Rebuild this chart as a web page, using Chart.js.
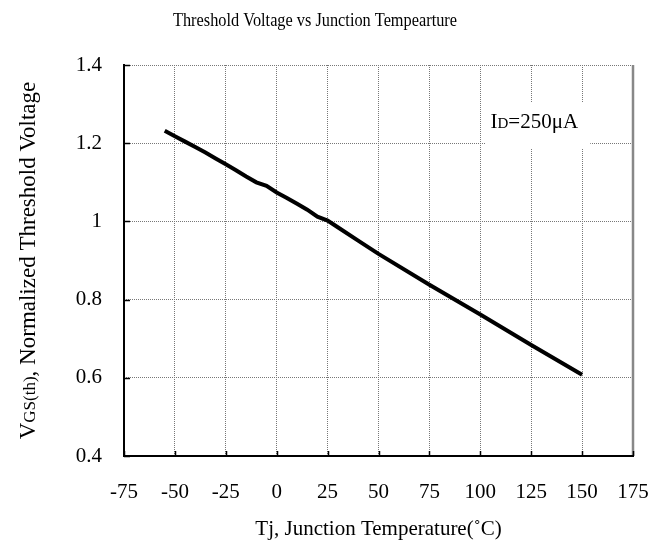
<!DOCTYPE html>
<html>
<head>
<meta charset="utf-8">
<script src="https://cdn.jsdelivr.net/npm/chart.js@4.4.1/dist/chart.umd.min.js"></script>
<style>
  html, body { margin: 0; padding: 0; background: #fff; }
  #wrap { width: 663px; height: 548px; }
</style>
</head>
<body>
<div id="wrap"><canvas id="canvas" width="663" height="548"></canvas></div>
<script>
// data
const temps = [-55, -50, -45, -40, -35, -30, -25, -20, -15, -10, -5, 0, 5, 10, 15, 20, 25, 30, 40, 50, 75, 100, 125, 150];
const vgs = [1.232, 1.218, 1.204, 1.190, 1.176, 1.161, 1.146, 1.131, 1.115, 1.100, 1.091, 1.074, 1.060, 1.045, 1.030, 1.012, 1.002, 0.985, 0.951, 0.917, 0.838, 0.762, 0.684, 0.608];
const xTicks = [-75, -50, -25, 0, 25, 50, 75, 100, 125, 150, 175];
const yTicks = [0.4, 0.6, 0.8, 1, 1.2, 1.4];

const chartTitle = 'Threshold Voltage vs Junction Tempearture';
const xTitle = 'Tj, Junction Temperature(\u02DAC)';
const serif = '"Liberation Serif", "DejaVu Serif", serif';

// squeeze a line of text horizontally so it fits a given width (narrow font look)
function fillNarrow(ctx, text, cx, cy, width) {
  const w = ctx.measureText(text).width;
  const k = Math.min(1, width / w);
  ctx.save();
  ctx.translate(cx, cy);
  ctx.scale(k, 1);
  ctx.textAlign = 'center';
  ctx.fillText(text, 0, 0);
  ctx.restore();
}

// title, y axis title with subscript, frame, inward ticks, I_D label
const decorations = {
  id: 'decorations',
  beforeDatasetsDraw(chart) {
    const ctx = chart.ctx;
    const a = chart.chartArea;
    const x = chart.scales.x, y = chart.scales.y;
    ctx.save();
    // frame
    ctx.lineWidth = 2.5;
    ctx.strokeStyle = '#888';
    ctx.beginPath();
    ctx.moveTo(a.right, a.top);
    ctx.lineTo(a.right, a.bottom);
    ctx.stroke();
    ctx.lineWidth = 2;
    ctx.strokeStyle = '#000';
    ctx.beginPath();
    ctx.moveTo(a.left, a.top - 1);
    ctx.lineTo(a.left, a.bottom);
    ctx.lineTo(a.right + 1, a.bottom);
    ctx.stroke();
    // short inward ticks
    ctx.lineWidth = 1.5;
    xTicks.forEach(v => {
      const px = Math.round(x.getPixelForValue(v)) + 0.5;
      ctx.beginPath();
      ctx.moveTo(px, a.bottom);
      ctx.lineTo(px, a.bottom - 5);
      ctx.stroke();
    });
    yTicks.forEach(v => {
      const py = Math.round(y.getPixelForValue(v)) + 0.5;
      ctx.beginPath();
      ctx.moveTo(a.left, py);
      ctx.lineTo(a.left + 6, py);
      ctx.stroke();
    });
    // white box behind the current label
    const bx = x.getPixelForValue(102.3), by = y.getPixelForValue(1.305);
    const bw = x.getPixelForValue(154) - bx, bh = y.getPixelForValue(1.186) - by;
    ctx.fillStyle = '#fff';
    ctx.fillRect(bx, by, bw, bh);
    ctx.restore();
  },
  afterDraw(chart) {
    const ctx = chart.ctx;
    const a = chart.chartArea;
    const x = chart.scales.x, y = chart.scales.y;
    ctx.save();
    ctx.fillStyle = '#000';
    ctx.textBaseline = 'middle';

    // chart title
    ctx.font = '18px ' + serif;
    fillNarrow(ctx, chartTitle, 315, 21, 284);

    // I_D = 250 uA
    ctx.textAlign = 'left';
    let tx = x.getPixelForValue(105);
    const ty = y.getPixelForValue(1.254);
    ctx.font = '21px ' + serif;
    ctx.fillText('I', tx, ty);
    tx += ctx.measureText('I').width;
    ctx.font = '15px ' + serif;
    ctx.fillText('D', tx, ty + 2);
    tx += ctx.measureText('D').width;
    ctx.font = '21px ' + serif;
    ctx.fillText('=250\u03BCA', tx, ty);

    // y axis title, rotated
    const parts = [
      ['V', '23px ' + serif, 0],
      ['GS(th)', '17px ' + serif, 2],
      [', Normalized Threshold Voltage', '23px ' + serif, 0]
    ];
    let total = 0;
    parts.forEach(p => { ctx.font = p[1]; total += ctx.measureText(p[0]).width; });
    ctx.translate(29, (a.top + a.bottom) / 2);
    ctx.rotate(-Math.PI / 2);
    let cx = -total / 2;
    parts.forEach(p => {
      ctx.font = p[1];
      ctx.fillText(p[0], cx, p[2]);
      cx += ctx.measureText(p[0]).width;
    });
    ctx.restore();
  }
};

const canvas = document.getElementById('canvas');
const myChart = new Chart(canvas, {
  type: 'line',
  data: {
    datasets: [{
      label: 'VGS(th)',
      data: temps.map((t, i) => ({ x: t, y: vgs[i] })),
      borderColor: '#000',
      borderWidth: 4,
      pointRadius: 0,
      tension: 0,
      fill: false
    }]
  },
  options: {
    responsive: false,
    animation: false,
    layout: { padding: { left: 0, right: 30, top: 65, bottom: 0 } },
    plugins: {
      legend: { display: false },
      tooltip: { enabled: false }
    },
    scales: {
      x: {
        type: 'linear',
        min: -75,
        max: 175,
        afterBuildTicks: scale => { scale.ticks = xTicks.map(v => ({ value: v })); },
        afterFit: scale => {
          scale.height = 92;
          scale.paddingLeft = 0;
          scale.paddingRight = 0;
        },
        grid: { color: '#777', lineWidth: 1, drawTicks: false },
        border: { display: false, dash: [1, 1] },
        ticks: {
          padding: 24,
          color: '#000',
          font: { family: serif, size: 21 },
          maxRotation: 0
        },
        title: {
          display: true,
          text: xTitle,
          color: '#000',
          font: { family: serif, size: 21 },
          padding: { top: 0, bottom: 6 }
        }
      },
      y: {
        min: 0.4,
        max: 1.4,
        afterBuildTicks: scale => { scale.ticks = yTicks.map(v => ({ value: v })); },
        afterFit: scale => { scale.width = 124; },
        grid: { color: '#777', lineWidth: 1, drawTicks: false },
        border: { display: false, dash: [1, 1] },
        ticks: {
          padding: 22,
          color: '#000',
          font: { family: serif, size: 21 },
          callback: v => String(Math.round(v * 10) / 10)
        }
      }
    }
  },
  plugins: [decorations]
});
</script>
</body>
</html>
